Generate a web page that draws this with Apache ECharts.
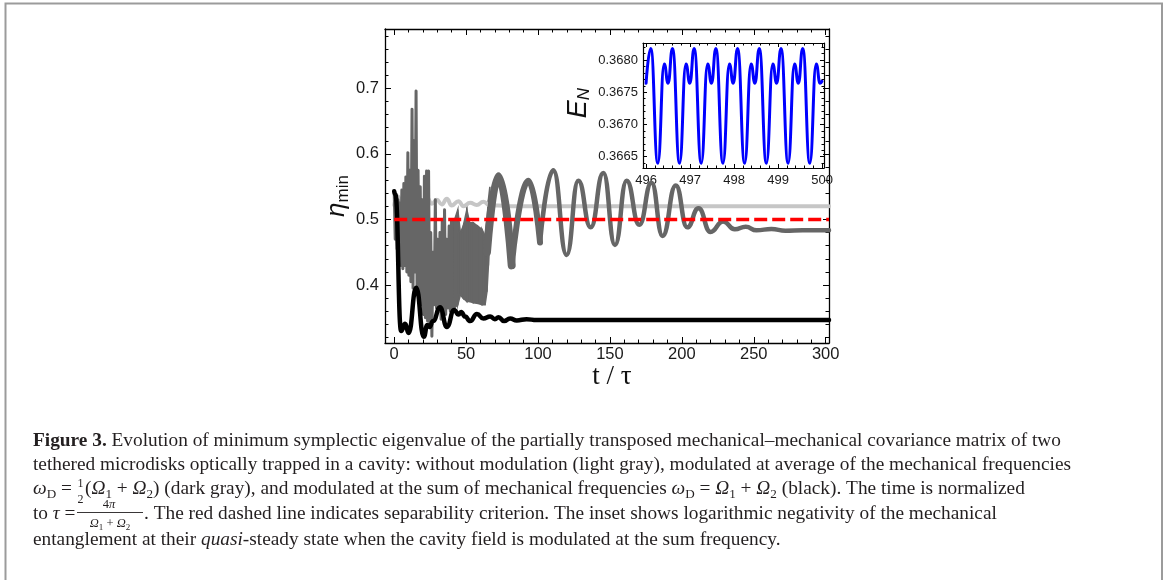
<!DOCTYPE html>
<html><head><meta charset="utf-8">
<script src="https://cdn.jsdelivr.net/npm/echarts@6.0.0/dist/echarts.min.js"></script>
<style>html,body{margin:0;padding:0;background:#fff}#c{width:1168px;height:580px}</style>
</head><body><div id="c"></div>
<script>
// ---------------- data ----------------
const mainXMajor = [0, 50, 100, 150, 200, 250, 300];
const mainXMinor = [10,20,30,40,60,70,80,90,110,120,130,140,160,170,180,190,210,220,230,240,260,270,280,290];
const mainYMajor = [0.4, 0.5, 0.6, 0.7];
const mainYMinor = [0.32,0.34,0.36,0.38,0.42,0.44,0.46,0.48,0.52,0.54,0.56,0.58,0.62,0.64,0.66,0.68,0.72,0.74,0.76,0.78];
const insetXMajor = [496, 497, 498, 499, 500];
const insetXMinor = [496.2,496.4,496.6,496.8,497.2,497.4,497.6,497.8,498.2,498.4,498.6,498.8,499.2,499.4,499.6,499.8];
const insetYMajor = [0.3665, 0.3670, 0.3675, 0.3680];
const insetYMinor = [0.3664,0.3666,0.3667,0.3668,0.3669,0.3671,0.3672,0.3673,0.3674,0.3676,0.3677,0.3678,0.3679,0.3681,0.3682];

// light gray: without modulation
const lightT = [0, 2.5, 5, 7.5, 10, 12.5, 15.7, 19.2, 22.7, 26.2, 29.6, 33.1, 36.6, 40, 44.7, 48.1, 52.8, 57.4, 62, 66.7, 72, 80, 100, 150, 200, 250, 302.3];
const lightV = [0.522, 0.535, 0.526, 0.537, 0.527, 0.536, 0.533, 0.5254, 0.533, 0.524, 0.530, 0.523, 0.5315, 0.5213, 0.528, 0.5203, 0.5254, 0.522, 0.527, 0.521, 0.5215, 0.5203, 0.5203, 0.5203, 0.5203, 0.5203, 0.5203];

// dark gray: modulated at average frequency (early spiky part)
const darkEarlyT = [0,0.7,1.3,2.0,2.6,3.2,3.9,4.6,5.3,6.0,6.7,7.4,8.1,8.8,9.5,10.2,10.9,11.6,12.4,13.1,13.8,14.4,15.2,15.9,16.6,17.3,18.1,18.8,19.6,20.3,21.0,21.7,22.5,23.2,23.9,24.7,25.4,26.2,27.0,27.8,28.6,29.4,30.2,31.0,31.8,32.6,33.4,34.2,35.0,35.8,36.6,37.4,38.2,39.0,39.8,40.6];
const darkEarlyV = [0.542,0.47,0.535,0.455,0.53,0.444,0.525,0.43,0.545,0.425,0.555,0.43,0.565,0.42,0.602,0.415,0.575,0.405,0.668,0.395,0.62,0.42,0.696,0.385,0.575,0.38,0.55,0.37,0.53,0.355,0.566,0.35,0.574,0.345,0.574,0.335,0.48,0.322,0.45,0.37,0.53,0.365,0.47,0.36,0.48,0.348,0.5,0.365,0.515,0.355,0.47,0.365,0.49,0.36,0.5,0.365];
// dark gray: densely oscillating band (lower / upper envelope)
const bandT  = [40, 42, 44.2, 46, 48, 50.5, 52.5, 55, 58, 61, 63.2, 64.5, 65.5, 66.5];
const bandLo = [0.36, 0.365, 0.37, 0.385, 0.38, 0.375, 0.375, 0.373, 0.372, 0.37, 0.37, 0.39, 0.43, 0.47];
const bandHi = [0.50, 0.50, 0.515, 0.48, 0.49, 0.515, 0.495, 0.495, 0.49, 0.485, 0.475, 0.50, 0.53, 0.55];
// dark gray: slow decaying oscillation (extrema)
const darkAT = [64.5, 72.5, 81.7];
const darkAV = [0.45, 0.566, 0.43];
const darkBT = [81.7, 93.3, 101.4];
const darkBV = [0.43, 0.559, 0.465];
const darkCT = [101.4, 110.6, 119.9, 128, 136.6, 145.4, 153.5, 161.6, 170.4, 178.9, 186.6, 195.8, 203.7, 211.6, 219.9, 228.7, 236.8, 244.4, 251.9, 262.3, 272, 284, 302.3];
const darkCV = [0.465, 0.575, 0.446, 0.559, 0.488, 0.571, 0.461, 0.559, 0.492, 0.556, 0.475, 0.552, 0.488, 0.517, 0.481, 0.497, 0.485, 0.489, 0.4835, 0.4855, 0.483, 0.4835, 0.4835];

// black: modulated at sum frequency
const blackT = [0, 0.8, 4.8, 7.6, 10, 15.3, 20.6, 23, 24.5, 27, 31.9, 36.6, 41.7, 44.7, 46.5, 49.3, 52.8, 57.5, 62, 66.7, 70, 72.5, 76.4, 80.6, 85.2, 92, 99, 302.3];
const blackV = [0.543, 0.538, 0.330, 0.341, 0.327, 0.396, 0.321, 0.339, 0.336, 0.345, 0.366, 0.336, 0.362, 0.355, 0.359, 0.352, 0.345, 0.356, 0.349, 0.352, 0.348, 0.351, 0.345, 0.349, 0.346, 0.348, 0.3465, 0.3465];

// red dashed separability line
const sepT = [0, 302.3];
const sepV = [0.5, 0.5];

// inset: logarithmic negativity E_N (extrema)
const insetT = [496.0,496.106,496.267,496.414,496.500,496.600,496.761,496.908,496.994,497.093,497.254,497.401,497.487,497.587,497.748,497.895,497.981,498.080,498.241,498.388,498.474,498.574,498.735,498.882,498.968,499.068,499.229,499.376,499.462,499.561,499.722,499.869,499.955,500.0];
const insetV = [0.36764,0.36818,0.36640,0.36794,0.36764,0.36818,0.36640,0.36794,0.36764,0.36818,0.36640,0.36794,0.36764,0.36818,0.36640,0.36794,0.36764,0.36818,0.36640,0.36794,0.36764,0.36818,0.36640,0.36794,0.36764,0.36818,0.36640,0.36794,0.36764,0.36818,0.36640,0.36794,0.36764,0.36767];

// ---------------- build ----------------
const pairs = (t, v) => t.map((x, i) => [x, v[i]]);

function mkAxes(dim, grid, min, max, major, minor, fmt, st) {
  const pos = dim === 'x' ? ['bottom', 'top'] : ['left', 'right'];
  const out = [];
  pos.forEach((p, k) => {
    const base = {type: 'value', gridIndex: grid, min: min, max: max, position: p,
      splitLine: {show: false}, splitArea: {show: false}};
    out.push(Object.assign({}, base, {
      axisLine: {show: true, onZero: false, lineStyle: {color: '#000', width: st.lw}},
      axisTick: {show: true, inside: true, length: st.maj, customValues: major, lineStyle: {color: '#000', width: st.tw}},
      axisLabel: {show: k === 0, customValues: major, formatter: fmt, margin: st.margin,
        fontFamily: 'Liberation Sans', fontSize: st.fs, color: '#1a1a1a'}
    }));
    out.push(Object.assign({}, base, {
      axisLine: {show: false, onZero: false},
      axisTick: {show: true, inside: true, length: st.min, customValues: minor, lineStyle: {color: '#000', width: st.tw}},
      axisLabel: {show: false}
    }));
  });
  return out;
}

const mainSt = {lw: 1.3, tw: 1, maj: 6, min: 3.5, fs: 16.5, margin: 4};
const insetSt = {lw: 1.2, tw: 1, maj: 4, min: 2.5, fs: 13, margin: 5};
const xAxes = mkAxes('x', 0, -6.4, 302.3, mainXMajor, mainXMinor, v => String(Math.round(v)), Object.assign({}, mainSt, {margin: 3}))
  .concat(mkAxes('x', 1, 495.93, 500.045, insetXMajor, insetXMinor, v => String(Math.round(v)), Object.assign({}, insetSt, {margin: 6})));
const yAxes = mkAxes('y', 0, 0.3116, 0.7906, mainYMajor, mainYMinor, v => v.toFixed(1), Object.assign({}, mainSt, {margin: 6}))
  .concat(mkAxes('y', 1, 0.366325, 0.368264, insetYMajor, insetYMinor, v => v.toFixed(4), insetSt));

function line(data, color, width, extra) {
  return Object.assign({type: 'line', data: data, xAxisIndex: 0, yAxisIndex: 0, showSymbol: false, symbol: 'none',
    silent: true, animation: false,
    lineStyle: {color: color, width: width, join: 'round', cap: 'round'}}, extra || {});
}
const mono = {smooth: 0.5, smoothMonotone: 'x'};

const bandSeries = {
  type: 'custom', xAxisIndex: 0, yAxisIndex: 0, silent: true, animation: false, clip: true,
  data: bandT.map((t, i) => [t, bandLo[i], bandHi[i]]),
  encode: {x: 0, y: [1, 2]},
  renderItem: function (params, api) {
    const i = params.dataIndex;
    if (i >= bandT.length - 1) return {type: 'group', children: []};
    const pts = [api.coord([bandT[i], bandLo[i]]), api.coord([bandT[i + 1], bandLo[i + 1]]),
                 api.coord([bandT[i + 1], bandHi[i + 1]]), api.coord([bandT[i], bandHi[i]])];
    return {type: 'polygon', shape: {points: pts}, style: {fill: '#666666', stroke: '#666666', lineWidth: 1.5}};
  }
};

const series = [
  line(pairs(lightT, lightV), '#c6c6c6', 4, mono),
  line(pairs(darkEarlyT, darkEarlyV), '#666666', 3, {smooth: false}),
  bandSeries,
  line(pairs(darkAT, darkAV), '#666666', 8, mono),
  line(pairs(darkBT, darkBV), '#666666', 6, mono),
  line(pairs(darkCT, darkCV), '#666666', 4.5, mono),
  line(pairs(blackT, blackV), '#000000', 4.5, mono),
  line(pairs(sepT, sepV), '#ff0000', 3.6, {lineStyle: {color: '#ff0000', width: 3.6, type: [13, 5]}}),
  line(pairs(insetT, insetV), '#0000ff', 3, Object.assign({xAxisIndex: 4, yAxisIndex: 4}, mono))
];

// ---------------- caption ----------------
const SERIF = 'Liberation Serif';
const L2 = 'tethered microdisks optically trapped in a cavity: without modulation (light gray), modulated at average of the mechanical frequencies';
const mctx = document.createElement('canvas').getContext('2d');
mctx.font = '18.5px "Liberation Serif"';
const FS = 18.5 * 1039 / mctx.measureText(L2).width;
const SFS = FS * 0.68;
const LH = 24;
const rich = {
  b: {fontFamily: SERIF, fontSize: FS, fontWeight: 'bold', lineHeight: LH, fill: '#231f20'},
  i: {fontFamily: SERIF, fontSize: FS, fontStyle: 'italic', lineHeight: LH, fill: '#231f20'},
  s: {fontFamily: SERIF, fontSize: SFS, lineHeight: 12, verticalAlign: 'bottom', fill: '#231f20'}
};
function cap(x, baseline, text) {
  return {type: 'text', x: x, y: baseline - FS * 0.3, silent: true,
    style: {text: text, fontFamily: SERIF, fontSize: FS, lineHeight: LH, fill: '#231f20',
      align: 'left', verticalAlign: 'middle', rich: rich}};
}
const smallRich = {
  i: {fontFamily: SERIF, fontSize: 12.5, fontStyle: 'italic', lineHeight: 16, fill: '#231f20'},
  s: {fontFamily: SERIF, fontSize: 9, lineHeight: 8, verticalAlign: 'bottom', fill: '#231f20'}
};
function small(x, y, text, fs) {
  return {type: 'text', x: x, y: y, silent: true,
    style: {text: text, fontFamily: SERIF, fontSize: fs, lineHeight: 16, fill: '#231f20', align: 'center', verticalAlign: 'middle', rich: smallRich}};
}

const graphics = [
  {type: 'polyline', silent: true, shape: {points: [[5.5, 580], [5.5, 3.5], [1162, 3.5], [1162, 580]]},
    style: {stroke: '#9b9b9b', lineWidth: 2, fill: null}},
  // axis titles
  {type: 'text', x: 337, y: 196, rotation: Math.PI / 2, silent: true,
    style: {text: '{e|η}{s|min}', align: 'center', verticalAlign: 'middle',
      rich: {e: {fontFamily: 'Liberation Sans', fontStyle: 'italic', fontSize: 26, lineHeight: 30, fill: '#111'},
             s: {fontFamily: 'Liberation Sans', fontSize: 17, lineHeight: 14, verticalAlign: 'bottom', fill: '#111'}}}},
  {type: 'text', x: 612, y: 377, silent: true,
    style: {text: 't / τ', fontFamily: SERIF, fontSize: 27, fill: '#111', align: 'center', verticalAlign: 'middle'}},
  {type: 'text', x: 578, y: 103, rotation: Math.PI / 2, silent: true,
    style: {text: '{e|E}{s|N}', align: 'center', verticalAlign: 'middle',
      rich: {e: {fontFamily: 'Liberation Sans', fontStyle: 'italic', fontSize: 27, lineHeight: 30, fill: '#111'},
             s: {fontFamily: 'Liberation Sans', fontStyle: 'italic', fontSize: 17, lineHeight: 14, verticalAlign: 'bottom', fill: '#111'}}}},
  // caption lines
  cap(33, 447, '{b|Figure 3.} Evolution of minimum symplectic eigenvalue of the partially transposed mechanical–mechanical covariance matrix of two'),
  cap(33, 471, L2),
  cap(33, 495, '{i|ω}{s|D} = '),
  small(80.5, 484, '1', 12),
  small(80.5, 500, '2', 12),
  cap(85, 495, '({i|Ω}{s|1} + {i|Ω}{s|2}) (dark gray), and modulated at the sum of mechanical frequencies {i|ω}{s|D} = {i|Ω}{s|1} + {i|Ω}{s|2} (black). The time is normalized'),
  cap(33, 520, 'to {i|τ} = '),
  small(109, 505, '4{i|π}', 12.5),
  {type: 'line', silent: true, shape: {x1: 77, y1: 512.5, x2: 143, y2: 512.5}, style: {stroke: '#231f20', lineWidth: 0.9}},
  small(110, 524, '{i|Ω}{s|1} + {i|Ω}{s|2}', 12.5),
  cap(144, 520, '. The red dashed line indicates separability criterion. The inset shows logarithmic negativity of the mechanical'),
  cap(33, 546, 'entanglement at their {i|quasi}-steady state when the cavity field is modulated at the sum frequency.')
];

const chart = echarts.init(document.getElementById('c'), null, {renderer: 'canvas'});
chart.setOption({
  animation: false,
  backgroundColor: '#ffffff',
  grid: [
    {left: 385, top: 29, width: 444, height: 314, containLabel: false},
    {left: 643, top: 43, width: 181, height: 125, containLabel: false}
  ],
  xAxis: xAxes,
  yAxis: yAxes,
  series: series,
  graphic: graphics
});
</script></body></html>
